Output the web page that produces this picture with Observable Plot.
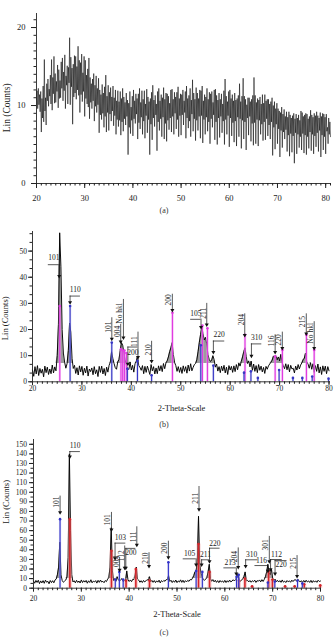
<!DOCTYPE html>
<html><head><meta charset="utf-8">
<script src="https://cdn.jsdelivr.net/npm/d3@7"></script>
<script src="https://cdn.jsdelivr.net/npm/@observablehq/plot@0.6"></script>
<style>
body{margin:0;background:#fff;}
#wrap{position:relative;width:334px;height:638px;overflow:hidden;font-family:"Liberation Serif",serif;background:#fff;}
#wrap svg{position:absolute;left:0;}
.cap{position:absolute;left:150px;width:28px;text-align:center;font-size:8px;line-height:8px;color:#333;}
</style></head><body><div id="wrap"></div>
<script>
// ---------- Panel (a): raw counts, 2θ from 20° in 0.125° steps ----------
const aStart = 20, aStep = 0.125;
const aCounts = [
10.8,11.9,9.6,12.2,10.1,11.4,9.2,11.8,
6.6,10.9,8.4,12.5,7.9,15.9,9.3,11.0,
7.5,12.8,10.6,13.4,9.9,12.1,11.2,13.9,
10.2,15.9,9.4,13.6,11.5,16.3,10.3,14.1,
10.4,13.1,11.8,15.2,9.7,14.6,10.9,13.2,
11.0,15.6,12.2,16.1,10.6,14.3,11.9,16.5,
9.6,13.8,12.6,15.1,10.2,14.9,12.9,18.7,
10.1,16.2,12.4,14.8,7.6,15.3,11.1,16.4,
11.6,16.3,10.8,15.0,12.0,17.6,11.3,15.8,
9.1,15.5,11.4,16.6,10.5,14.2,11.8,16.3,
8.6,15.8,10.9,13.9,10.2,14.7,9.8,16.1,
8.3,13.6,10.4,12.8,9.6,13.4,10.6,14.1,
8.0,12.6,9.9,13.8,9.1,12.2,10.1,13.5,
6.5,12.0,8.8,11.4,8.2,12.7,9.0,11.6,
7.2,12.4,8.6,13.9,6.6,11.2,9.1,12.6,
6.8,11.7,8.9,12.3,8.0,11.1,9.3,12.5,
7.4,11.0,8.7,12.0,6.3,10.6,8.2,11.9,
7.3,10.5,8.1,11.8,6.2,10.9,7.9,12.2,
6.7,11.1,8.3,10.4,7.5,11.6,8.6,10.7,
3.7,10.3,7.2,11.8,6.4,9.8,8.1,11.2,
6.1,12.0,8.3,10.6,7.7,11.5,8.9,10.9,
5.7,11.5,7.8,12.2,7.0,10.4,8.5,11.9,
6.3,10.8,8.0,11.9,5.8,10.2,8.7,12.1,
6.5,11.1,8.2,10.5,3.7,10.9,7.6,11.7,
5.6,12.6,8.4,10.7,7.3,11.3,8.8,10.2,
4.2,11.8,7.9,12.2,6.8,10.6,8.3,11.4,
6.0,11.0,8.5,12.3,5.7,10.8,7.7,11.6,
5.4,11.5,8.1,11.2,6.9,10.3,8.4,12.0,
6.6,12.1,8.6,10.8,6.3,11.7,9.0,11.1,
7.0,11.7,8.2,12.4,6.0,10.9,8.7,11.5,
6.2,11.4,8.8,12.0,7.5,10.6,9.1,11.8,
5.8,12.5,8.4,10.9,7.1,11.3,8.0,12.2,
6.0,10.7,8.9,13.3,6.7,11.6,8.3,10.8,
5.5,12.3,8.1,11.6,6.8,10.9,8.6,12.0,
5.8,11.9,8.7,12.5,5.2,10.6,8.2,11.4,
6.3,11.1,8.5,12.2,6.7,10.8,7.9,11.7,
5.1,11.5,8.3,11.8,7.2,10.4,8.8,12.0,
5.6,12.1,7.9,11.3,5.0,10.7,8.4,11.6,
5.9,10.8,8.6,11.5,6.5,10.2,8.0,11.9,
5.0,13.4,8.2,11.2,6.3,10.5,8.7,11.8,
4.7,12.0,8.4,10.9,6.1,11.4,7.8,10.6,
5.3,11.6,8.0,10.7,4.8,10.9,8.5,11.3,
6.0,12.8,8.3,10.5,4.5,11.2,8.1,13.5,
5.7,11.2,7.9,10.8,4.3,10.1,8.4,11.0,
6.2,11.0,8.6,10.5,5.4,10.8,7.7,11.3,
4.9,13.6,7.8,11.3,5.1,10.4,8.2,10.9,
4.8,10.7,8.1,11.1,6.3,10.2,7.6,11.4,
5.5,10.3,7.9,11.4,5.6,10.6,8.3,10.8,
6.1,10.8,7.5,10.2,5.7,10.5,7.9,11.0,
3.6,10.0,7.2,10.5,4.4,9.6,7.6,10.3,
5.1,9.6,7.0,9.3,3.4,9.1,6.8,9.8,
4.6,8.9,6.6,9.5,5.7,8.6,6.9,9.2,
4.1,8.5,6.2,9.2,3.5,8.8,6.4,8.4,
4.0,8.7,6.1,9.0,2.6,8.3,6.5,8.9,
3.8,8.4,6.3,8.8,4.6,8.1,6.0,9.3,
4.3,9.1,6.4,8.6,3.9,8.8,6.2,9.0,
3.7,8.9,6.0,8.3,4.5,8.6,6.6,9.4,
4.2,8.8,6.3,8.5,3.8,9.0,6.1,8.7,
4.7,9.2,6.5,8.7,4.1,8.4,6.8,9.1,
3.4,8.6,6.2,9.0,4.3,8.9,6.0,8.5,
3.8,8.9,6.7,7.2,5.1,8.4,6.3,7.9,
6.0
];

// ---------- Panel (b) ----------
const bStart = 20, bStep = 0.25;
const bCounts = [
4.5,2.1,5.8,3.0, 6.2,2.4,5.1,3.3, 4.8,1.9,6.0,3.5, 5.6,2.8,4.9,3.1, 6.4,3.4,5.7,4.2,
10.0,22.0,57.0,44.0, 20.0,11.0,7.5,5.2, 7.0,12.0,22.5,19.0, 9.0,5.1,6.3,3.2, 5.4,2.6,6.1,3.8,
5.9,2.5,5.2,3.4, 6.0,2.2,4.9,3.9, 5.3,2.7,5.8,3.1, 4.6,2.0,5.9,3.6, 6.0,3.0,5.1,2.4,
5.6,3.7,6.3,7.5, 11.5,9.0,7.0,5.4, 4.8,7.6,8.5,12.0, 15.0,14.0,11.0,8.4, 6.3,5.0,4.7,7.6,
4.5,6.3,3.7,6.9, 7.8,9.8,6.2,5.5, 4.4,6.2,3.1,5.9, 3.6,6.0,4.4,2.8, 6.6,4.2,5.8,3.0,
5.3,3.1,6.1,4.2, 6.2,3.9,7.0,5.0, 7.2,8.0,9.5,11.5, 13.0,15.0,10.5,7.4, 6.2,4.0,5.8,3.6,
5.5,3.2,6.1,4.0, 5.8,3.3,6.4,4.1, 6.9,4.2,5.5,6.6, 7.0,8.4,11.5,15.0, 18.0,21.0,18.5,16.0,
17.0,14.5,10.5,8.6, 7.8,8.2,10.0,8.5, 5.6,6.8,4.1,5.8, 3.5,6.0,4.2,6.3, 3.4,5.6,2.8,6.2,
4.5,5.9,3.6,6.1, 3.9,6.6,4.6,7.2, 6.0,7.8,9.5,11.5, 13.0,9.6,7.0,8.0, 5.7,7.9,4.4,6.8,
4.0,6.2,3.5,6.6, 4.4,6.0,3.8,5.5, 3.2,5.9,4.8,6.1, 6.8,7.5,8.3,9.8, 9.6,10.0,8.4,9.5,
8.0,10.5,7.3,6.2, 5.0,6.9,4.6,6.6, 3.8,6.3,4.9,5.2, 3.4,6.0,4.5,6.6, 4.9,6.4,7.2,8.4,
9.0,11.0,7.6,6.8, 5.2,7.3,4.8,6.9, 3.6,6.2,4.0,6.8, 3.4,5.7,2.8,6.1, 4.0,6.0,3.1,5.8,
4.2
];
// reference sticks (b): anatase (magenta) and rutile (blue)
const bAnataseX = [25.52, 37.9, 38.25, 38.6, 39.0, 48.32, 54.38, 55.4, 63.0, 69.1, 70.57, 75.43, 77.0];
const bAnataseY = [29, 12.5, 12, 12, 11, 26.4, 21.5, 20.5, 18, 9.8, 12.2, 18, 12.2];
const bRutileX = [27.61, 36.04, 39.2, 41.24, 44.1, 54.05, 56.6, 62.8, 64.2, 65.6, 69.9, 72.7, 74.6, 76.6, 79.9];
const bRutileY = [29, 15, 5, 8, 2.5, 14, 6.2, 3.5, 4, 1.5, 4.5, 1.5, 1.5, 2, 1.2];
const bLabels = [
 {t:"101", k:"h", x1:23.2, x2:25.4, y:44.8, ty:47.5, xt:25.4, tip:40},
 {t:"110", k:"h", x1:27.6, x2:29.7, y:32.8, ty:35.3, xt:27.6, tip:30},
 {t:"101", k:"v", x:36.05, bot:18.8, top:24.5, tip:16},
 {t:"004", k:"v", x:37.85, bot:17.1, top:22, tip:15},
 {t:"No hkl", k:"v", x:38.4, bot:22.2, top:31.5, tip:16.5},
 {t:"200", k:"h", x1:39.3, x2:41.3, y:13.3, ty:11.2, xt:39.3, tip:6.5},
 {t:"111", k:"v", x:41.35, bot:13.3, top:19, tip:9},
 {t:"210", k:"v", x:44.1, bot:10.1, top:15.5, tip:7.5},
 {t:"200", k:"v", x:48.3, bot:29.2, top:33.5, tip:27},
 {t:"105", k:"h", x1:52.0, x2:54.1, y:23.9, ty:26.2, xt:54.1, tip:20.5},
 {t:"211", k:"v", x:55.26, bot:24.1, top:30, tip:21.5},
 {t:"220", k:"h", x1:56.6, x2:58.9, y:15.6, ty:18, xt:56.6, tip:11},
 {t:"204", k:"v", x:62.95, bot:21.6, top:26, tip:17.5},
 {t:"310", k:"h", x1:64.3, x2:66.4, y:14.5, ty:16.8, xt:64.3, tip:9.5},
 {t:"116", k:"v", x:69.1, bot:13.5, top:18, tip:11},
 {t:"220", k:"v", x:70.55, bot:13.9, top:19, tip:12.5},
 {t:"215", k:"v", x:75.4, bot:20.9, top:26, tip:18},
 {t:"No hkl", k:"v", x:77.0, bot:14.6, top:23, tip:12.5}
];

// ---------- Panel (c) ----------
const cStart = 20, cStep = 0.25;
const cCounts = [
7.5,5.2,8.1,6.0, 8.3,4.8,7.6,5.5, 7.9,5.1,8.4,6.2, 7.2,4.6,8.0,5.8, 7.8,5.6,8.6,9.5,
14.0,22.0,48.0,14.0, 8.0,6.2,7.4,8.5, 12.0,32.0,140.0,60.0, 14.0,6.5,7.8,5.6, 8.2,6.0,7.5,5.4,
8.6,5.9,7.9,6.3, 8.1,5.2,7.7,6.0, 8.8,5.6,7.4,6.5, 7.9,5.3,8.2,6.1, 8.5,6.4,7.2,5.7,
8.0,6.9,9.5,11.0, 22.0,63.0,18.0,8.0, 10.0,7.2,12.0,8.4, 7.5,9.0,10.0,6.8, 8.0,7.1,18.0,8.8,
7.0,8.6,6.8,9.3, 9.0,14.0,22.0,9.5, 8.4,6.2,7.8,5.9, 8.1,6.5,7.6,9.0, 8.0,12.0,6.6,8.2,
6.1,8.0,5.8,7.7, 6.3,8.4,5.5,7.9, 6.7,8.1,7.2,9.0, 9.0,13.0,7.0,8.3, 5.9,7.8,6.2,8.5,
5.8,7.6,6.4,8.7, 6.1,8.3,5.9,7.9, 6.6,8.2,7.1,9.0, 8.6,10.5,13.0,17.0, 18.0,28.0,75.0,26.0,
16.0,12.0,9.0,8.2, 9.5,11.0,17.0,25.0, 10.0,7.2,9.0,6.6, 8.3,6.1,7.9,5.8, 8.0,6.4,7.6,6.0,
8.2,5.9,7.8,6.3, 8.5,6.6,7.4,8.8, 7.5,9.0,12.0,15.0, 9.0,7.0,8.8,9.5, 12.0,17.0,7.6,8.2,
6.5,8.0,6.2,7.8, 6.8,8.4,6.0,7.9, 7.2,8.6,6.6,8.9, 7.0,9.2,12.0,17.0, 25.0,16.0,14.0,20.0,
10.5,8.0,9.5,6.8, 8.2,6.4,7.9,6.1, 8.6,6.3,7.4,5.9, 8.0,6.6,7.7,6.2, 8.4,6.9,8.5,9.0,
7.2,9.2,8.0,6.4, 7.8,6.0,8.1,6.2, 8.3,6.5,7.6,6.0, 8.2,5.8,7.9,6.3, 7.7,6.1,8.3,7.0,
7.5
];
// reference sticks (c): anatase (blue) and rutile (red)
const cAnataseX = [25.55, 37.1, 37.95, 38.75, 48.2, 54.0, 55.3, 62.45, 62.9, 69.0, 70.45, 75.2, 76.2];
const cAnataseY = [72, 9, 17, 9, 27, 18, 17, 12, 14, 6, 7, 8, 5];
const cRutileX = [27.6, 36.3, 39.35, 41.4, 44.25, 54.5, 56.8, 62.95, 64.2, 65.7, 69.15, 69.95, 72.6, 74.6, 76.6, 79.95];
const cRutileY = [72, 39, 8, 20, 8, 46, 17, 8, 10, 2, 18, 9, 2, 2, 4, 3];
const cLabels = [
 {t:"101", k:"v", x:25.56, bot:83.8, top:96, tip:78},
 {t:"110", k:"h", x1:27.6, x2:29.8, y:142.4, ty:148.6, xt:27.6, tip:136},
 {t:"101", k:"v", x:36.3, bot:65.3, top:79, tip:60},
 {t:"103", k:"h", x1:37.05, x2:39.3, y:47, ty:52.5, xt:37.05, tip:30},
 {t:"004", k:"v", x:38.0, bot:22, top:32, tip:18},
 {t:"112", k:"v", x:39.07, bot:28, top:44, tip:20},
 {t:"200", k:"h", x1:39.3, x2:41.4, y:41.5, ty:37, xt:39.3, tip:20},
 {t:"111", k:"v", x:41.6, bot:48, top:64, tip:44},
 {t:"210", k:"v", x:44.15, bot:25.4, top:37, tip:22},
 {t:"200", k:"v", x:48.2, bot:35.8, top:49, tip:31},
 {t:"105", k:"h", x1:51.3, x2:54.0, y:30.6, ty:36, xt:54.0, tip:23.5},
 {t:"211", k:"v", x:54.6, bot:88, top:106, tip:81},
 {t:"211", k:"h", x1:55.15, x2:56.8, y:29.6, ty:35, xt:55.15, tip:23.5},
 {t:"220", k:"h", x1:56.8, x2:59.0, y:41.7, ty:47, xt:56.8, tip:27},
 {t:"213", k:"h", x1:59.8, x2:62.4, y:21.2, ty:26.5, xt:62.4, tip:14},
 {t:"204", k:"v", x:62.8, bot:27, top:42, tip:21},
 {t:"310", k:"h", x1:64.35, x2:66.9, y:29.6, ty:35, xt:64.35, tip:22},
 {t:"116", k:"h", x1:66.3, x2:69.0, y:23.6, ty:29, xt:69.0, tip:17},
 {t:"301", k:"v", x:69.3, bot:39.3, top:54, tip:27},
 {t:"112", k:"h", x1:69.56, x2:72.0, y:29.9, ty:35, xt:69.56, tip:18.5},
 {t:"220", k:"h", x1:70.5, x2:73.0, y:28.8, ty:25, xt:70.5, tip:14},
 {t:"215", k:"v", x:75.1, bot:20.2, top:34, tip:11.5}
];

const xMajor = [20, 30, 40, 50, 60, 70, 80];
const xMinorA = d3.range(20, 81.01, 1);
const xMinorBC = d3.range(20, 80.01, 1);
const yMajorA = [0, 10, 20], yMinorA = d3.range(0, 21.5, 1);
const yMajorB = [0, 10, 20, 30, 40, 50], yMinorB = d3.range(0, 57, 10 / 3);
const yMajorC = d3.range(0, 151, 10), yMinorC = d3.range(0, 155, 5);

const SERIF = "'Liberation Serif', 'Times New Roman', serif";
const INK = "#222";

function panel(cfg) {
  const data = cfg.counts.map((v, i) => ({x: cfg.start + i * cfg.step, y: v}));
  const marks = [];
  if (cfg.fillBase != null) {
    marks.push(Plot.areaY(data, {x: "x", y1: () => cfg.fillBase, y2: d => Math.max(d.y, cfg.fillBase), fill: "#9c9c9c"}));
  }
  marks.push(Plot.line(data, {x: "x", y: "y", stroke: "#000", strokeWidth: cfg.lineW}));
  for (const s of (cfg.sticks || [])) {
    const sd = s.xs.map((x, i) => ({x, h: s.hs[i]}));
    marks.push(Plot.ruleX(sd, {x: "x", y1: () => 0, y2: "h", stroke: s.halo, strokeWidth: s.haloW, strokeOpacity: 0.5}));
    marks.push(Plot.ruleX(sd, {x: "x", y1: () => 0, y2: "h", stroke: s.color, strokeWidth: s.w}));
    marks.push(Plot.dot(sd, {x: "x", y: "h", r: 1.3, fill: s.color, stroke: "none"}));
  }
  if (cfg.labels) {
    const vL = cfg.labels.filter(d => d.k === "v");
    const hL = cfg.labels.filter(d => d.k === "h");
    marks.push(Plot.ruleX(vL, {x: "x", y1: "tip", y2: "top", stroke: "#111", strokeWidth: 0.7}));
    marks.push(Plot.ruleY(hL, {y: "y", x1: "x1", x2: "x2", stroke: "#111", strokeWidth: 0.7}));
    marks.push(Plot.ruleX(hL, {x: "xt", y1: "tip", y2: "y", stroke: "#111", strokeWidth: 0.7}));
    marks.push(Plot.dot(cfg.labels, {x: d => d.k === "v" ? d.x : d.xt, y: "tip", symbol: "triangle", rotate: 180, r: 1.5, fill: "#111", stroke: "none", dy: -1}));
    marks.push(Plot.text(vL, {x: "x", y: "bot", text: "t", rotate: -90, textAnchor: "start", lineAnchor: "bottom", dx: -1, fontSize: cfg.lblSize, fill: INK}));
    marks.push(Plot.text(hL, {x: d => (d.x1 + d.x2) / 2, y: "ty", text: "t", lineAnchor: "middle", fontSize: cfg.lblSize, fill: INK}));
  }
  // axes
  marks.push(Plot.ruleX([cfg.xDomain[0]], {stroke: INK, strokeWidth: 0.9}));
  marks.push(Plot.ruleY([0], {stroke: INK, strokeWidth: 0.9}));
  marks.push(Plot.axisY(cfg.yMinor, {tickSize: cfg.minorSize, tickFormat: () => "", label: null, stroke: INK}));
  marks.push(Plot.axisY(cfg.yMajor, {tickSize: cfg.majorSize, tickPadding: cfg.yPad, label: null, fontSize: cfg.tickFont, fill: INK, stroke: INK}));
  marks.push(Plot.axisX(cfg.xMinor, {tickSize: cfg.minorSize, tickFormat: () => "", label: null, stroke: INK}));
  marks.push(Plot.axisX(xMajor, {tickSize: cfg.majorSize, tickFormat: () => "", label: null, stroke: INK}));
  marks.push(Plot.axisX(xMajor, {tickSize: 0, tickPadding: cfg.xPad, label: null, fontSize: cfg.tickFont, fill: INK}));
  marks.push(Plot.text([{x: cfg.xDomain[0], y: cfg.ylabY, t: "Lin (Counts)"}], {x: "x", y: "y", text: "t", rotate: -90, dx: cfg.ylabDx, fontSize: cfg.labFont, fill: INK, lineAnchor: "middle"}));
  if (cfg.xlab) {
    marks.push(Plot.text([{t: cfg.xlab}], {text: "t", frameAnchor: "bottom", dy: cfg.xlabDy, lineAnchor: "middle", fontSize: cfg.labFont, fill: INK}));
  }
  const svg = Plot.plot({
    width: 334, height: cfg.height,
    marginTop: cfg.mt, marginBottom: cfg.mb, marginLeft: cfg.ml, marginRight: cfg.mr,
    x: {domain: cfg.xDomain}, y: {domain: cfg.yDomain},
    style: {fontFamily: SERIF, background: "transparent", color: INK, overflow: "visible"},
    marks
  });
  svg.style.top = cfg.top + "px";
  return svg;
}

const wrap = document.getElementById("wrap");
wrap.append(panel({
  top: 0, height: 205, mt: 13, mb: 22, ml: 36, mr: 4,
  xDomain: [20, 81], yDomain: [0, 21.8],
  counts: aCounts, start: aStart, step: aStep, lineW: 0.55,
  yMajor: yMajorA, yMinor: yMinorA, xMinor: xMinorA,
  majorSize: 5, minorSize: 2.5, yPad: 6, xPad: 11, tickFont: 8.5,
  ylabY: 9.7, ylabDx: -30, labFont: 9.5
}));
wrap.append(panel({
  top: 218, height: 200, mt: 13, mb: 36.7, ml: 32, mr: 4,
  xDomain: [20, 80.3], yDomain: [0, 57.5],
  counts: bCounts, start: bStart, step: bStep, lineW: 0.95, fillBase: 7,
  sticks: [
    {xs: bAnataseX, hs: bAnataseY, color: "#e03ce0", halo: "#f3a6f3", w: 1.2, haloW: 2.5},
    {xs: bRutileX, hs: bRutileY, color: "#3636c4", halo: "#a8a8e8", w: 1.1, haloW: 2.2}
  ],
  labels: bLabels, lblSize: 7.5,
  yMajor: yMajorB, yMinor: yMinorB, xMinor: xMinorBC,
  majorSize: 4, minorSize: 2.5, yPad: 1.5, xPad: 3.5, tickFont: 7.5,
  ylabY: 24.3, ylabDx: -27, labFont: 8.5, xlab: "2-Theta-Scale", xlabDy: 26
}));
wrap.append(panel({
  top: 428, height: 195, mt: 11, mb: 35.3, ml: 33, mr: 14,
  xDomain: [20, 80], yDomain: [0, 155],
  counts: cCounts, start: cStart, step: cStep, lineW: 0.95, fillBase: 10,
  sticks: [
    {xs: cRutileX, hs: cRutileY, color: "#d4242a", halo: "#f2a3a3", w: 1.6, haloW: 4},
    {xs: cAnataseX, hs: cAnataseY, color: "#3232c8", halo: "#a9a9ec", w: 1.1, haloW: 2.2}
  ],
  labels: cLabels, lblSize: 7.5,
  yMajor: yMajorC, yMinor: yMinorC, xMinor: xMinorBC,
  majorSize: 4, minorSize: 2.5, yPad: 2.5, xPad: 7, tickFont: 7.5,
  ylabY: 90, ylabDx: -27.5, labFont: 8.5, xlab: "2-Theta-Scale", xlabDy: 26.3
}));
for (const [t, y] of [["(a)", 207], ["(b)", 421], ["(c)", 629]]) {
  const d = document.createElement("div");
  d.className = "cap"; d.textContent = t; d.style.top = y + "px";
  wrap.append(d);
}
</script></body></html>
